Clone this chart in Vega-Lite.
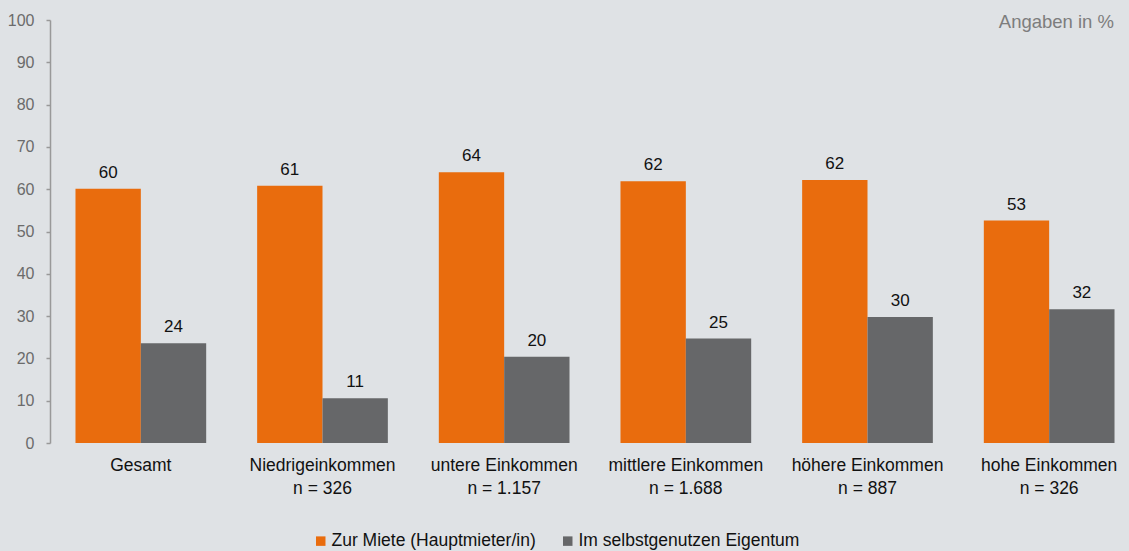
{
  "$schema": "https://vega.github.io/schema/vega-lite/v6.json",
  "width": 1072,
  "height": 423,
  "autosize": {"type": "none"},
  "padding": {"left": 50, "top": 20, "right": 7, "bottom": 108},
  "background": "#dfe2e5",
  "config": {
    "view": {"stroke": null},
    "font": "Liberation Sans",
    "axis": {"labelFont": "Liberation Sans", "titleFont": "Liberation Sans"}
  },
  "title": {
    "text": "Angaben in %",
    "anchor": "end",
    "frame": "group",
    "orient": "top",
    "baseline": "top",
    "offset": -19,
    "dx": -8,
    "fontSize": 18.5,
    "fontWeight": "normal",
    "color": "#7d7d7d",
    "font": "Liberation Sans"
  },
  "data": {
    "values": [
      {"gruppe": "Gesamt", "serie": "Zur Miete (Hauptmieter/in)", "wert": 60.1},
      {"gruppe": "Gesamt", "serie": "Im selbstgenutzen Eigentum", "wert": 23.6},
      {"gruppe": "Niedrigeinkommen|n = 326", "serie": "Zur Miete (Hauptmieter/in)", "wert": 60.8},
      {"gruppe": "Niedrigeinkommen|n = 326", "serie": "Im selbstgenutzen Eigentum", "wert": 10.6},
      {"gruppe": "untere Einkommen|n = 1.157", "serie": "Zur Miete (Hauptmieter/in)", "wert": 64.0},
      {"gruppe": "untere Einkommen|n = 1.157", "serie": "Im selbstgenutzen Eigentum", "wert": 20.4},
      {"gruppe": "mittlere Einkommen|n = 1.688", "serie": "Zur Miete (Hauptmieter/in)", "wert": 61.9},
      {"gruppe": "mittlere Einkommen|n = 1.688", "serie": "Im selbstgenutzen Eigentum", "wert": 24.7},
      {"gruppe": "höhere Einkommen|n = 887", "serie": "Zur Miete (Hauptmieter/in)", "wert": 62.2},
      {"gruppe": "höhere Einkommen|n = 887", "serie": "Im selbstgenutzen Eigentum", "wert": 29.8},
      {"gruppe": "hohe Einkommen|n = 326", "serie": "Zur Miete (Hauptmieter/in)", "wert": 52.6},
      {"gruppe": "hohe Einkommen|n = 326", "serie": "Im selbstgenutzen Eigentum", "wert": 31.6}
    ]
  },
  "encoding": {
    "x": {
      "field": "gruppe",
      "type": "nominal",
      "sort": null,
      "scale": {"range": [0, 1090], "paddingInner": 0, "paddingOuter": 0},
      "axis": {
        "title": null,
        "labelAngle": 0,
        "labelExpr": "split(datum.label, '|')",
        "labelFontSize": 17.5,
        "labelColor": "#111111",
        "labelLineHeight": 23,
        "labelBaseline": "top",
        "labelPadding": 13,
        "labelLimit": 0,
        "ticks": false,
        "domain": false
      }
    },
    "xOffset": {
      "field": "serie",
      "type": "nominal",
      "sort": ["Zur Miete (Hauptmieter/in)", "Im selbstgenutzen Eigentum"],
      "scale": {"paddingInner": 0, "paddingOuter": 0.39}
    },
    "y": {
      "field": "wert",
      "type": "quantitative",
      "scale": {"domain": [0, 100], "nice": false},
      "axis": {
        "title": null,
        "values": [0, 10, 20, 30, 40, 50, 60, 70, 80, 90, 100],
        "grid": false,
        "domainColor": "#999999",
        "domainWidth": 1.5,
        "tickColor": "#999999",
        "tickWidth": 1.5,
        "tickSize": 4,
        "labelFontSize": 16,
        "labelColor": "#6b6b6b",
        "labelPadding": 12
      }
    }
  },
  "layer": [
    {
      "mark": {"type": "bar"},
      "encoding": {
        "color": {
          "field": "serie",
          "type": "nominal",
          "sort": ["Zur Miete (Hauptmieter/in)", "Im selbstgenutzen Eigentum"],
          "scale": {"range": ["#e96c0d", "#666769"]},
          "legend": {
            "title": null,
            "orient": "none",
            "direction": "horizontal",
            "legendX": 262,
            "legendY": 512,
            "symbolType": "square",
            "symbolSize": 90,
            "symbolStrokeWidth": 0,
            "labelFontSize": 17.5,
            "labelColor": "#111111",
            "labelFont": "Liberation Sans",
            "labelLimit": 0,
            "columnPadding": 23,
            "labelOffset": 2
          }
        }
      }
    },
    {
      "mark": {"type": "text", "baseline": "bottom", "dy": -7, "fontSize": 17, "color": "#111111"},
      "encoding": {
        "text": {"field": "wert", "type": "quantitative", "format": ".0f"}
      }
    },
    {
      "mark": {"type": "rule", "color": "#b5bcc4", "strokeWidth": 2},
      "encoding": {"y": {"datum": 0}}
    }
  ]
}
